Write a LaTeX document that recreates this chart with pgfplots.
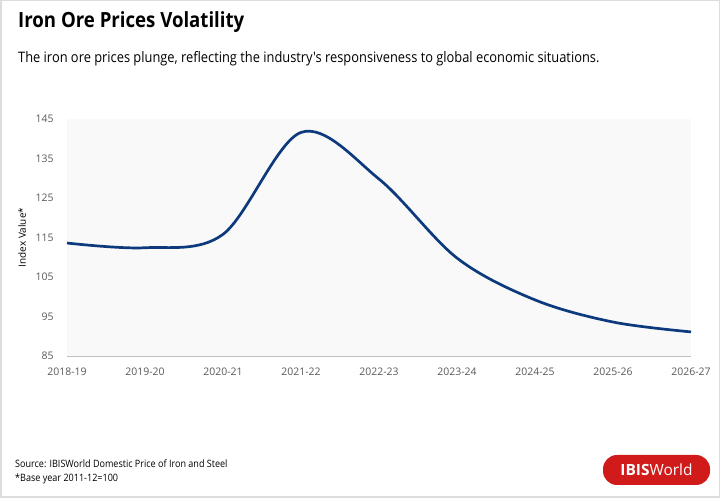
\documentclass[border=0pt]{standalone}
\usepackage{pgfplots}
\pgfplotsset{compat=1.18}
\usepackage{fontspec}
\setmainfont{Open Sans}
\newfontfamily\narrow[FakeStretch=0.89]{Open Sans}
\definecolor{navy}{HTML}{0C3A7C}
\definecolor{tickgray}{HTML}{595959}
\definecolor{plotbg}{HTML}{F9F9F9}
\definecolor{ibisred}{HTML}{D11A1A}
\definecolor{framegray}{HTML}{DDDDDD}
\begin{document}
\begin{tikzpicture}[x=1bp,y=1bp]
\fill[white] (0,0) rectangle (720,498);
\draw[framegray,line width=1.5bp] (0.75,0.75) rectangle (719.25,497.25);
\node[anchor=base west,inner sep=0,font=\narrow\fontsize{21}{24}\selectfont\bfseries] at (18,470) {Iron Ore Prices Volatility};
\node[anchor=base west,inner sep=0,font=\narrow\fontsize{14.5}{17}\selectfont] at (18,435) {The iron ore prices plunge, reflecting the industry's responsiveness to global economic situations.};
\begin{axis}[
  at={(67bp,142bp)}, anchor=south west,
  width=624bp, height=237bp, scale only axis,
  xmin=0, xmax=8, ymin=85, ymax=145,
  xtick={0,...,8},
  xticklabels={2018-19,2019-20,2020-21,2021-22,2022-23,2023-24,2024-25,2025-26,2026-27},
  ytick={85,95,105,115,125,135,145},
  axis line style={draw=none},
  axis background/.style={fill=plotbg},
  tick style={draw=none},
  ticklabel style={font=\fontsize{10.5}{12}\selectfont, text=tickgray},
  /pgf/number format/assume math mode=true,
  yticklabel style={xshift=-10bp},
  xticklabel style={yshift=-8bp},
  ylabel={Index Value*},
  ylabel style={font=\fontsize{10.5}{12}\selectfont, text=tickgray},
  every axis y label/.style={rotate=90, anchor=center, at={(axis description cs:-0.072,0.5)}},
  clip=false,
]
\draw[framegray!70!gray, line width=0.8bp] (axis cs:0,85) -- (axis cs:8,85);
\addplot[navy, line width=2.7bp, smooth, tension=0.55] coordinates {
 (0,113.6) (1,112.4) (2,115.8) (3,141.6) (4,129.8) (5,109.8) (6,99.2) (7,93.6) (8,91.1)
};
\end{axis}
\node[anchor=base west,inner sep=0,font=\narrow\fontsize{10.2}{12}\selectfont] at (15,30) {Source: IBISWorld Domestic Price of Iron and Steel};
\node[anchor=base west,inner sep=0,font=\narrow\fontsize{10.2}{12}\selectfont] at (15,16) {*Base year 2011-12=100};
\fill[ibisred, rounded corners=14bp] (603,13) rectangle (710,43);
\node[text=white,inner sep=0,font=\fontsize{15.5}{17}\selectfont] at (656.5,28) {\textbf{IBIS}World};
\end{tikzpicture}
\end{document}
